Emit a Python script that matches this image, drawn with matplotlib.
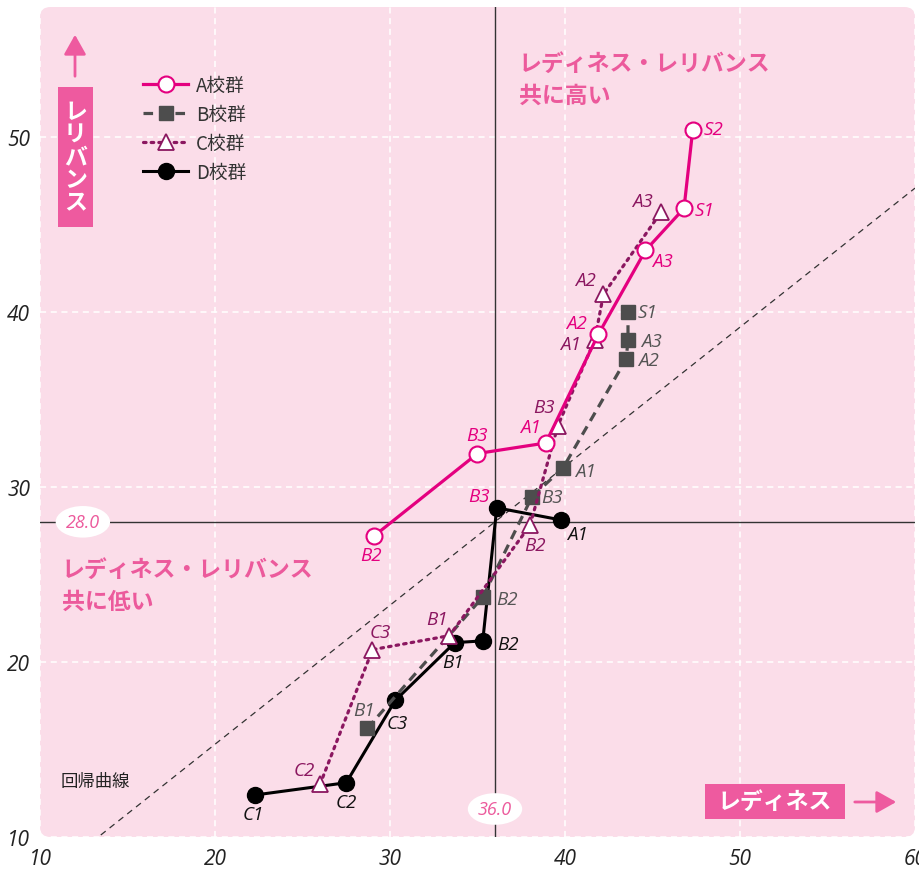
import matplotlib
matplotlib.use("Agg")
import numpy as np
from matplotlib import pyplot as plt
from matplotlib.patches import FancyBboxPatch, Rectangle, FancyArrowPatch

plt.rcParams['font.family'] = ['Noto Sans CJK JP', 'DejaVu Sans']

# data
a_labels = ["B2", "B3", "A1", "A2", "A3", "S1", "S2"]
a_x = [29.1, 35.0, 38.9, 41.9, 44.6, 46.8, 47.3]
a_y = [27.2, 31.9, 32.5, 38.7, 43.5, 45.9, 50.4]

b_labels = ["B1", "B2", "B3", "A1", "A2", "A3", "S1"]
b_x = [28.7, 35.3, 38.1, 39.9, 43.5, 43.6, 43.6]
b_y = [16.2, 23.7, 29.4, 31.1, 37.3, 38.4, 40.0]

c_labels = ["C2", "C3", "B1", "B2", "B3", "A1", "A2", "A3"]
c_x = [26.0, 29.0, 33.4, 38.0, 39.6, 41.7, 42.2, 45.5]
c_y = [13.0, 20.7, 21.5, 27.8, 33.5, 38.4, 41.0, 45.7]

d_labels = ["C1", "C2", "C3", "B1", "B2", "B3", "A1"]
d_x = [22.3, 27.5, 30.3, 33.7, 35.3, 36.1, 39.8]
d_y = [12.4, 13.1, 17.8, 21.1, 21.2, 28.8, 28.1]

mean_x = 36.0
mean_y = 28.0
reg_slope = 0.794

x_ticks = [10, 20, 30, 40, 50, 60]
y_ticks = [10, 20, 30, 40, 50]

# label offsets in pixels (dx, dy)
a_off = [(-3, -19), (0, 19), (-15, 16), (-22, 11), (17, -11), (21, -2), (21, 1)]
b_off = [(-3, 18), (24, -2), (20, 0), (22, -3), (22, -1), (23, -1), (20, 0)]
c_off = [(-16, 14), (8, 18), (-12, 17), (5, -20), (-14, 19), (-24, -4), (-18, 14), (-19, 11)]
d_off = [(-2, -19), (0, -19), (2, -23), (-2, -19), (25, -3), (-18, 12), (16, -14)]

PINK = "#e4007f"
SOFT = "#ec5a9c"
GRAY = "#4d4d4d"
PURP = "#8b1760"
BG = "#fbdde9"

fig = plt.figure(figsize=(9.2, 8.7), dpi=100)
ax = fig.add_axes([40/920, 32/870, 875/920, 830/870])
ax.set_xlim(10, 60)
ax.set_ylim(10, 57.4)
ax.patch.set_facecolor("none")
for s in ax.spines.values():
    s.set_visible(False)

bg = FancyBboxPatch((0, 0), 1, 1, boxstyle="round,pad=0,rounding_size=0.012",
                    transform=ax.transAxes, fc=BG, ec="none", zorder=0, clip_on=False)
ax.add_patch(bg)

ax.set_xticks(x_ticks)
ax.set_yticks(y_ticks)
ax.grid(True, color="white", ls=(0, (4, 3)), lw=1.1)
ax.set_axisbelow(True)
ax.tick_params(length=0, labelsize=15, colors="#222222")
ax.tick_params(axis="x", pad=8)
ax.tick_params(axis="y", pad=7)
for t in ax.get_xticklabels() + ax.get_yticklabels():
    t.set_fontstyle("italic")
    t.set_family(["Open Sans", "DejaVu Sans"])

# cross lines at mean
ax.axvline(mean_x, color="#333333", lw=1, zorder=1)
ax.axhline(mean_y, color="#333333", lw=1, zorder=1)

# regression line
rx = np.array([10, 60])
ax.plot(rx, mean_y + reg_slope * (rx - mean_x), color="#333333", lw=0.9,
        ls=(0, (5, 4)), zorder=1)

ax.plot(a_x, a_y, color=PINK, lw=2.3, marker="o", ms=11.5, mfc="white",
        mec=PINK, mew=1.5, label="A校群", zorder=5)
ax.plot(b_x, b_y, color=GRAY, lw=2.3, ls=(0, (3, 2)), marker="s", ms=10,
        mfc=GRAY, mec=GRAY, label="B校群", zorder=4)
ax.plot(c_x, c_y, color=PURP, lw=2.3, ls=(0, (0.8, 1.6)), marker="^", ms=11.5,
        mfc="white", mec=PURP, mew=1.3, label="C校群", zorder=4, dash_capstyle="round")
ax.plot(d_x, d_y, color="black", lw=2.2, marker="o", ms=11.5, mfc="black",
        mec="black", label="D校群", zorder=3)

lab_font = ["Open Sans", "DejaVu Sans"]
def put_labels(xs, ys, labs, offs, color, colors=None):
    for i, (x, y, l, o) in enumerate(zip(xs, ys, labs, offs)):
        c = colors[i] if colors else color
        ax.annotate(l, (x, y), xytext=o, textcoords="offset pixels", ha="center",
                    va="center", fontsize=13.5, style="italic", color=c,
                    family=lab_font, zorder=6)

put_labels(a_x, a_y, a_labels, a_off, PINK)
put_labels(b_x, b_y, b_labels, b_off, "#555555")
put_labels(c_x, c_y, c_labels, c_off, PURP)
d_cols = ["#111111"] * len(d_labels)
d_cols[5] = PINK
put_labels(d_x, d_y, d_labels, d_off, "#111111", d_cols)

leg = ax.legend(loc="upper left", bbox_to_anchor=(0.118, 0.918), frameon=False,
                fontsize=13.5, handlelength=2.4, handletextpad=0.4, labelspacing=0.42,
                borderpad=0, borderaxespad=0)
for t in leg.get_texts():
    t.set_color("#333333")

# mean value tags
ax.text(12.45, mean_y, "28.0", ha="center", va="center", fontsize=13, color=SOFT,
        style="italic", family=lab_font, zorder=7,
        bbox=dict(boxstyle="ellipse,pad=0.12", fc="white", ec="none"))
ax.text(mean_x, 11.6, "36.0", ha="center", va="center", fontsize=13, color=SOFT,
        style="italic", family=lab_font, zorder=7,
        bbox=dict(boxstyle="ellipse,pad=0.12", fc="white", ec="none"))

# quadrant captions
ax.text(0.547, 0.946, "レディネス・レリバンス\n共に高い", transform=ax.transAxes,
        ha="left", va="top", fontsize=16.5, weight="bold", color=SOFT, linespacing=1.5)
ax.text(0.025, 0.336, "レディネス・レリバンス\n共に低い", transform=ax.transAxes,
        ha="left", va="top", fontsize=16.5, weight="bold", color=SOFT, linespacing=1.5)

ax.text(0.023, 0.068, "回帰曲線", transform=ax.transAxes, ha="left", va="center",
        fontsize=12.5, color="#222222")

# axis name boxes
fig.patches.append(Rectangle((58/920, 642/870), 35/920, 140/870, transform=fig.transFigure,
                             fc="#ee5a9f", ec="none", zorder=5))
fig.text(75.5/920, 712/870, "レ\nリ\nバ\nン\nス", ha="center", va="center", fontsize=16.5,
         weight="bold", color="white", linespacing=0.98, zorder=6)
fig.patches.append(FancyArrowPatch((75/920, 790/870), (75/920, 837/870),
                                   transform=fig.transFigure, arrowstyle="-|>,head_length=8,head_width=4.5",
                                   color="#ee5a9f", lw=2, mutation_scale=1.5))

fig.patches.append(Rectangle((705/920, 50/870), 140/920, 35/870, transform=fig.transFigure,
                             fc="#ee5a9f", ec="none", zorder=5))
fig.text(775/920, 67.5/870, "レディネス", ha="center", va="center", fontsize=16.5,
         weight="bold", color="white", zorder=6)
fig.patches.append(FancyArrowPatch((852/920, 67/870), (899/920, 67/870),
                                   transform=fig.transFigure, arrowstyle="-|>,head_length=8,head_width=4.5",
                                   color="#ee5a9f", lw=2, mutation_scale=1.5))

fig.savefig("out.png", dpi=100)
